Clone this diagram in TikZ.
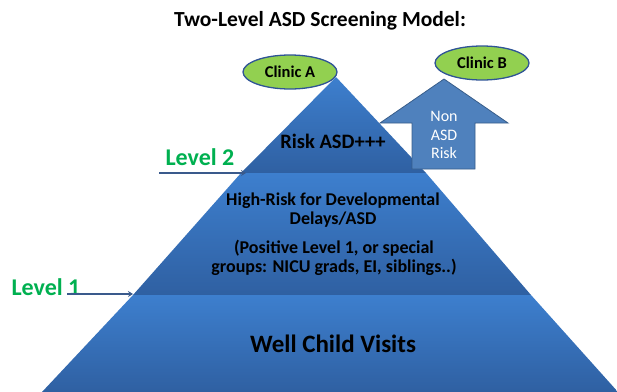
\documentclass[tikz,border=0pt]{standalone}
\usepackage{fontspec}
\setmainfont{Carlito}
\usetikzlibrary{arrows.meta,shapes.geometric}
\definecolor{bandtop}{RGB}{61,127,206}
\definecolor{bandbot}{RGB}{47,96,162}
\definecolor{arrowfill}{RGB}{79,129,189}
\definecolor{arrowedge}{RGB}{56,93,138}
\definecolor{clinicfill}{RGB}{146,208,80}
\definecolor{clinicedge}{RGB}{47,84,150}
\definecolor{levelgreen}{RGB}{0,176,80}
\definecolor{pointer}{RGB}{58,90,140}
\tikzset{
  band/.style={top color=bandtop, bottom color=bandbot},
  clinic/.style={ellipse, draw=clinicedge, line width=1.3pt, fill=clinicfill,
    minimum width=94pt, minimum height=34pt, inner sep=0pt,
    font=\bfseries\fontsize{16.5}{18}\selectfont},
  leveltxt/.style={text=levelgreen, font=\bfseries\fontsize{24}{26}\selectfont, inner sep=0pt},
  pointerline/.style={draw=pointer, line width=2.2pt, -{Stealth[length=5pt,width=6pt]}},
  bandtxt/.style={align=center, inner sep=0pt, font=\bfseries\fontsize{18}{19}\selectfont},
}
\begin{document}
\begin{tikzpicture}[x=1pt,y=-1pt]
\useasboundingbox (0,0) rectangle (617,391);
% title
\node[font=\bfseries\fontsize{21.5}{24}\selectfont, inner sep=0pt] (title) at (320,21) {Two-Level ASD Screening Model:};
% pyramid bands
\shade[band] (336,77) -- (426,173) -- (241,173) -- cycle;
\shade[band] (241,173) -- (426,173) -- (531,295) -- (133,295) -- cycle;
\shade[band] (133,295) -- (531,295) -- (618,392) -- (42,392) -- cycle;
% up arrow
\filldraw[fill=arrowfill, draw=arrowedge, line width=0.8pt]
  (444,79) -- (508,123) -- (475,123) -- (475,169) -- (412,169) -- (412,123) -- (380,123) -- cycle;
\node[text=white, align=center, inner sep=0pt, font=\fontsize{16}{18.5}\selectfont] (nonasd) at (444,135) {Non\\ASD\\Risk};
% clinics
\node[clinic] (clinicA) at (290,72) {Clinic A};
\node[clinic] (clinicB) at (482,63) {Clinic B};
% band texts
\node[inner sep=0pt, font=\bfseries\fontsize{20.5}{22}\selectfont] (risk) at (333,141) {Risk ASD+++};
\node[bandtxt] (highrisk) at (333,210) {High-Risk for Developmental\\Delays/ASD};
\node[bandtxt] (positive) at (334,257.5) {(Positive Level 1, or special\\groups: NICU grads, EI, siblings..)};
\node[inner sep=0pt, font=\bfseries\fontsize{25}{27}\selectfont] (well) at (333,344) {Well Child Visits};
% levels
\node[leveltxt] (lvl2) at (200,157) {Level 2};
\node[leveltxt] (lvl1) at (46,287) {Level 1};
\coordinate (l2s) at (159,173);
\coordinate (l2e) at (246,173);
\coordinate (l1s) at (67,294);
\coordinate (l1e) at (133,294);
\draw[pointerline] (l2s) -- (l2e);
\draw[pointerline] (l1s) -- (l1e);
\end{tikzpicture}
\end{document}
